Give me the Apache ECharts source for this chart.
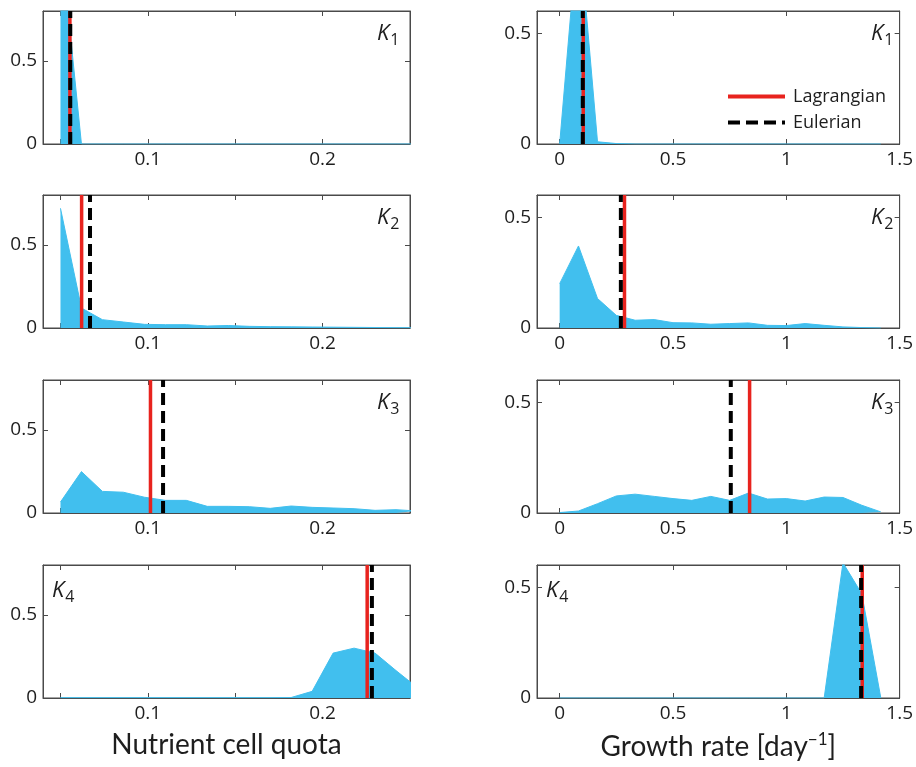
<!DOCTYPE html>
<html>
<head>
<meta charset="utf-8">
<script src="https://cdn.jsdelivr.net/npm/echarts@6/dist/echarts.min.js"></script>
<style>
html,body{margin:0;padding:0;background:#fff;}
#chart{width:916px;height:767px;}
</style>
</head>
<body>
<div id="chart"></div>
<script>
// ---- data ----
const quotaBins = [0.05,0.062,0.074,0.086,0.098,0.110,0.122,0.134,0.146,0.158,0.170,0.182,0.194,0.206,0.218,0.230,0.242,0.254];
const growthBins = [0,0.083,0.167,0.25,0.333,0.417,0.5,0.583,0.667,0.75,0.833,0.917,1.0,1.083,1.167,1.25,1.333,1.417];

const quotaK1 = [1.25,0,0,0,0,0,0,0,0,0,0,0,0,0,0,0,0,0];
const quotaK2 = [0.72,0.12,0.05,0.036,0.022,0.02,0.02,0.012,0.015,0.01,0.008,0.007,0.006,0.005,0.004,0.003,0.002,0.002];
const quotaK3 = [0.066,0.249,0.13,0.125,0.095,0.076,0.076,0.04,0.04,0.038,0.028,0.042,0.034,0.03,0.026,0.016,0.02,0.012];
const quotaK4 = [0.002,0.002,0.002,0.002,0.002,0.002,0.002,0.002,0.002,0.002,0.002,0.003,0.04,0.27,0.30,0.27,0.165,0.064];

const growthK1 = [0,1.0,0.01,0.002,0,0,0,0,0,0,0,0,0,0,0,0,0,0];
const growthK2 = [0.20,0.37,0.133,0.057,0.035,0.038,0.024,0.023,0.017,0.02,0.023,0.012,0.011,0.02,0.012,0.005,0.002,0];
const growthK3 = [0.002,0.009,0.042,0.077,0.085,0.075,0.065,0.057,0.075,0.057,0.09,0.063,0.065,0.054,0.072,0.07,0.035,0.005];
const growthK4 = [0,0,0,0,0,0,0,0,0,0,0,0,0,0,0,0.61,0.47,0];

const lagrangianQuota = [0.0554,0.0621,0.1015,0.2255];
const eulerianQuota   = [0.0556,0.0669,0.1087,0.2282];
const lagrangianGrowth = [0.104,0.286,0.838,1.335];
const eulerianGrowth   = [0.102,0.270,0.755,1.330];

const panelLabels = ['1','2','3','4'];
const quotaTicks = [0.05,0.1,0.15,0.2];
const quotaTickLabels = [0.1,0.2];
const growthTicks = [0,0.5,1,1.5];
const yTicks = [0,0.5];

// ---- layout / style ----
const FONT = '"Open Sans"';
const TITLE_FONT = 'Lato';
const BLUE = '#41bfee';
const RED = '#e8231e';
const AXIS = '#4a4a4a';
const TEXT = '#1e1e1e';
const panelTops = [11,195,380,565];
const panelH = 133;
const colLeft = [43,537];
const colW = [367,368];

const quotaData = [quotaK1,quotaK2,quotaK3,quotaK4];
const growthData = [growthK1,growthK2,growthK3,growthK4];

const grids=[],xAxes=[],yAxes=[],series=[],titles=[];

function tickStyle(){ return {show:true,inside:true,length:5,lineStyle:{color:AXIS,width:1}}; }

for(let r=0;r<4;r++){
  for(let c=0;c<2;c++){
    const gi = grids.length;
    grids.push({left:colLeft[c],top:panelTops[r],width:colW[c],height:panelH,show:true,borderColor:AXIS,borderWidth:1,backgroundColor:'#fff'});
    const xr = c===0 ? [0.04,0.25] : [-0.1,1.5];
    const yr = c===0 ? [0,0.8] : [0,0.6];
    const xt = c===0 ? quotaTicks : growthTicks;
    const xl = c===0 ? quotaTickLabels : growthTicks;
    const bottom = {
      type:'value',gridIndex:gi,position:'bottom',min:xr[0],max:xr[1],
      axisLine:{show:true,onZero:false,lineStyle:{color:AXIS,width:1}},
      axisTick:Object.assign(tickStyle(),{customValues:xt}),
      axisLabel:{show:true,customValues:xl,margin:6,fontSize:19,fontFamily:FONT,color:TEXT,
        formatter:v=>String(+v.toFixed(2))},
      splitLine:{show:false}
    };
    if(r===3){
      bottom.nameLocation='middle';
      bottom.nameGap=33;
      bottom.nameTextStyle={fontSize:28,fontFamily:TITLE_FONT,color:TEXT,
        rich:{sup:{fontSize:17,fontFamily:TITLE_FONT,color:TEXT,padding:[0,0,14,0]}}};
      bottom.name = c===0 ? 'Nutrient cell quota' : 'Growth rate [day{sup|−1}]';
    }
    xAxes.push(bottom);
    xAxes.push({type:'value',gridIndex:gi,position:'top',min:xr[0],max:xr[1],
      axisLine:{show:true,onZero:false,lineStyle:{color:AXIS,width:1}},
      axisTick:Object.assign(tickStyle(),{customValues:xt}),
      axisLabel:{show:false},splitLine:{show:false}});
    yAxes.push({type:'value',gridIndex:gi,position:'left',min:yr[0],max:yr[1],
      axisLine:{show:true,onZero:false,lineStyle:{color:AXIS,width:1}},
      axisTick:Object.assign(tickStyle(),{customValues:yTicks}),
      axisLabel:{show:true,customValues:yTicks,margin:6,fontSize:19,fontFamily:FONT,color:TEXT},
      splitLine:{show:false}});
    yAxes.push({type:'value',gridIndex:gi,position:'right',min:yr[0],max:yr[1],
      axisLine:{show:true,onZero:false,lineStyle:{color:AXIS,width:1}},
      axisTick:Object.assign(tickStyle(),{customValues:yTicks}),
      axisLabel:{show:false},splitLine:{show:false}});

    const bins = c===0 ? quotaBins : growthBins;
    const vals = c===0 ? quotaData[r] : growthData[r];
    series.push({
      name:'dist'+gi,type:'line',xAxisIndex:2*gi,yAxisIndex:2*gi,
      data:bins.map((x,k)=>[x,vals[k]]),symbol:'none',clip:true,silent:true,
      lineStyle:{color:BLUE,width:1},areaStyle:{color:BLUE,opacity:1},z:2
    });
    const lx = c===0 ? lagrangianQuota[r] : lagrangianGrowth[r];
    const ex = c===0 ? eulerianQuota[r] : eulerianGrowth[r];
    series.push({
      name:'Lagrangian',type:'line',xAxisIndex:2*gi,yAxisIndex:2*gi,
      data:[[lx,yr[0]],[lx,yr[1]]],symbol:'none',silent:true,
      lineStyle:{color:RED,width:3.5},itemStyle:{color:RED},z:3
    });
    series.push({
      name:'Eulerian',type:'line',xAxisIndex:2*gi,yAxisIndex:2*gi,
      data:[[ex,yr[0]],[ex,yr[1]]],symbol:'none',silent:true,
      lineStyle:{color:'#000',width:4,type:[12,6]},itemStyle:{color:'#000'},z:4
    });

    const lab = r===3 ? (c===0 ? 52 : 546) : (c===0 ? 377 : 871);
    titles.push({
      text:'{k|K}{s|'+panelLabels[r]+'}',
      left:lab, top:panelTops[r]+(r===3?12:9), padding:0,
      textStyle:{fontWeight:'normal',rich:{
        k:{fontSize:22,fontStyle:'italic',fontWeight:'normal',fontFamily:FONT,color:TEXT,lineHeight:28},
        s:{fontSize:16,fontWeight:'normal',fontFamily:FONT,color:TEXT,padding:[12,0,0,1],lineHeight:28}
      }}
    });
  }
}

const chart = echarts.init(document.getElementById('chart'),null,{renderer:'canvas'});
chart.setOption({
  animation:false,
  backgroundColor:'#fff',
  title:titles,
  grid:grids,xAxis:xAxes,yAxis:yAxes,series:series,
  legend:{
    data:['Lagrangian','Eulerian'],orient:'vertical',left:726,top:86,padding:0,
    itemWidth:57,itemHeight:14,itemGap:5,selectedMode:false,
    itemStyle:{opacity:0},
    lineStyle:{width:4},
    textStyle:{fontSize:18,fontFamily:FONT,color:TEXT,lineHeight:21,padding:[0,0,0,3]}
  }
});
</script>
</body>
</html>
